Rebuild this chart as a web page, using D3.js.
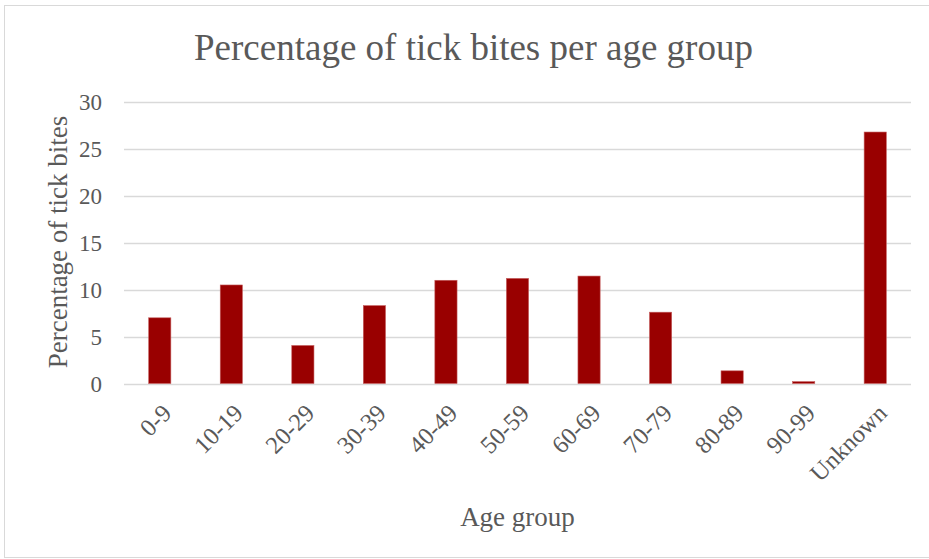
<!DOCTYPE html>
<html>
<head>
<meta charset="utf-8">
<script src="https://cdn.jsdelivr.net/npm/d3@7"></script>
<style>
  html, body { margin: 0; padding: 0; background: #ffffff; }
  svg { display: block; }
  text { font-family: "Liberation Serif", "Times New Roman", serif; fill: #595959; }
</style>
</head>
<body>
<svg id="chart" width="929" height="559"></svg>
<script>
// Age groups and share of tick bites (%) per group
const categories = ["0-9", "10-19", "20-29", "30-39", "40-49", "50-59", "60-69", "70-79", "80-89", "90-99", "Unknown"];
const values = [7.0, 10.5, 4.05, 8.3, 11.0, 11.2, 11.45, 7.6, 1.35, 0.2, 26.8];
const yTicks = [0, 5, 10, 15, 20, 25, 30];

const title = "Percentage of tick bites per age group";
const xTitle = "Age group";
const yTitle = "Percentage of tick bites";

const W = 929, H = 559;
const plot = { left: 124, right: 911, top: 102, bottom: 383.5 };

const svg = d3.select("#chart");

// outer chart frame
svg.append("rect")
  .attr("x", 4.5).attr("y", 5.5)
  .attr("width", W).attr("height", H - 7)
  .attr("fill", "#ffffff")
  .attr("stroke", "#d9d9d9")
  .attr("stroke-width", 1);

const x = d3.scaleBand()
  .domain(categories)
  .range([plot.left, plot.right])
  .paddingInner(0.69)
  .paddingOuter(0.345);

const y = d3.scaleLinear()
  .domain([0, 30])
  .range([plot.bottom, plot.top]);

// horizontal gridlines
svg.append("g")
  .selectAll("line")
  .data(yTicks)
  .join("line")
  .attr("x1", plot.left).attr("x2", plot.right)
  .attr("y1", d => Math.round(y(d)) + 0.5)
  .attr("y2", d => Math.round(y(d)) + 0.5)
  .attr("stroke", "#d9d9d9")
  .attr("stroke-width", 1.5);

// y axis labels
const yAxis = d3.axisLeft(y).tickValues(yTicks).tickSize(0).tickPadding(0);
const gy = svg.append("g")
  .attr("transform", `translate(${plot.left - 22},0)`)
  .call(yAxis);
gy.select(".domain").remove();
gy.selectAll("text")
  .style("font-size", "23px")
  .style("font-family", "Liberation Serif, serif")
  .attr("fill", "#595959")
  .attr("dy", "0.33em");

// bars
svg.append("g")
  .selectAll("rect")
  .data(values)
  .join("rect")
  .attr("x", (d, i) => x(categories[i]))
  .attr("y", d => y(d))
  .attr("width", x.bandwidth())
  .attr("height", d => y(0) - y(d))
  .attr("fill", "#990000")
  .attr("stroke", "#c45c5c")
  .attr("stroke-width", 0.6);

// x axis category labels, rotated
const xAxis = d3.axisBottom(x).tickSize(0).tickPadding(0);
const gx = svg.append("g")
  .attr("transform", `translate(0,${plot.bottom})`)
  .call(xAxis);
gx.select(".domain").remove();
gx.selectAll("text")
  .style("font-size", "24.5px")
  .style("font-family", "Liberation Serif, serif")
  .attr("fill", "#595959")
  .attr("text-anchor", "end")
  .attr("dy", "0.35em")
  .attr("transform", "translate(7,25) rotate(-45)");

// chart title
svg.append("text")
  .attr("x", 473.5)
  .attr("y", 60)
  .attr("text-anchor", "middle")
  .style("font-size", "37px")
  .text(title);

// axis titles
svg.append("text")
  .attr("x", (plot.left + plot.right) / 2)
  .attr("y", 526)
  .attr("text-anchor", "middle")
  .style("font-size", "27px")
  .text(xTitle);

svg.append("text")
  .attr("transform", `translate(67,242) rotate(-90)`)
  .attr("text-anchor", "middle")
  .style("font-size", "27px")
  .text(yTitle);
</script>
</body>
</html>
